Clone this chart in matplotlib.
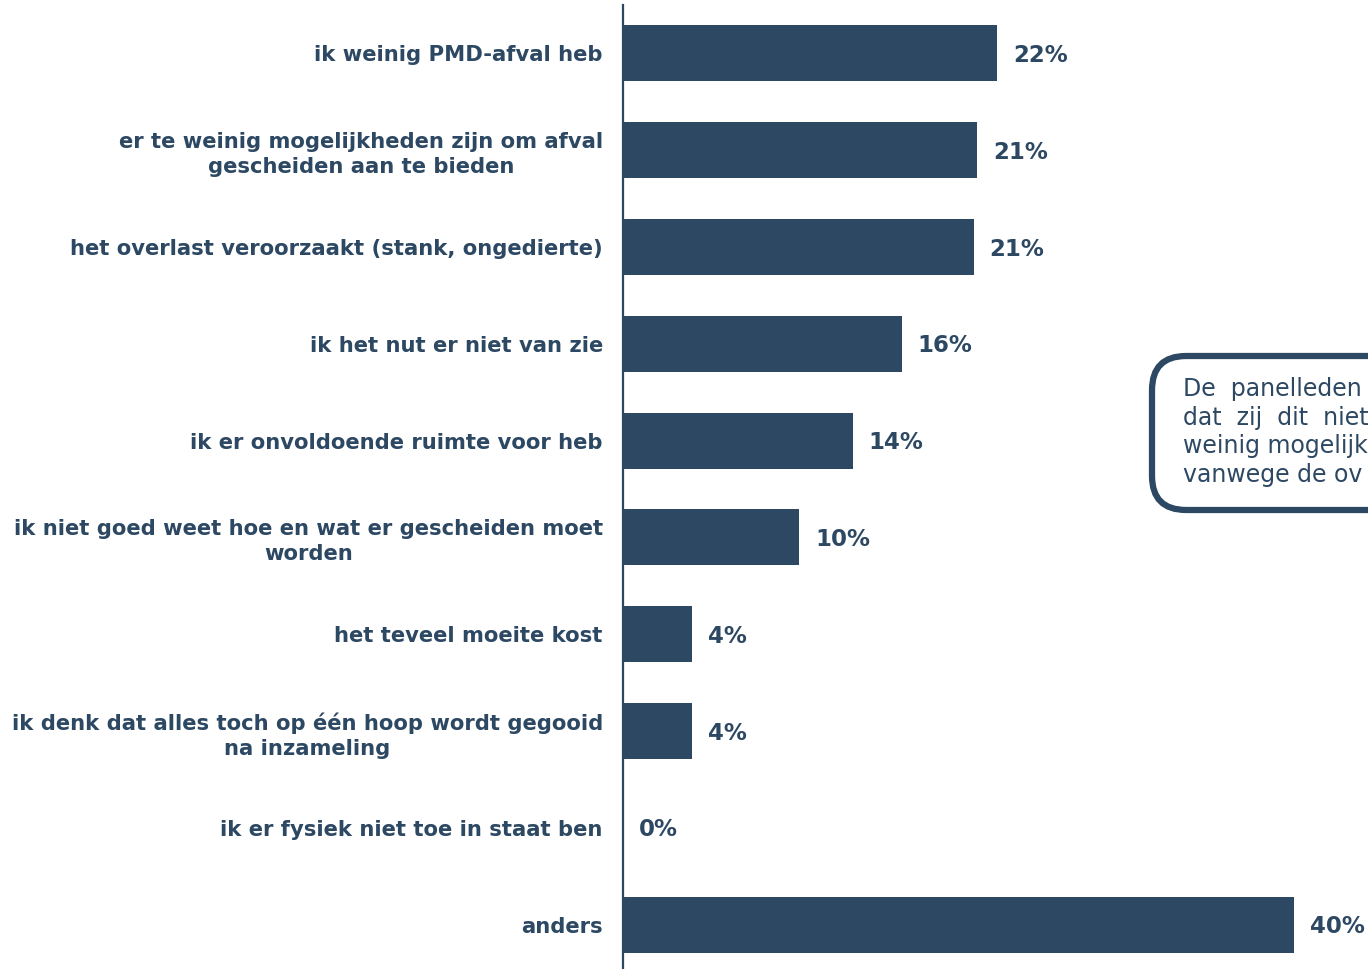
import matplotlib
matplotlib.use("Agg")
import matplotlib.pyplot as plt
from matplotlib.patches import FancyBboxPatch

categories = [
    "ik weinig PMD-afval heb",
    "er te weinig mogelijkheden zijn om afval\ngescheiden aan te bieden",
    "het overlast veroorzaakt (stank, ongedierte)",
    "ik het nut er niet van zie",
    "ik er onvoldoende ruimte voor heb",
    "ik niet goed weet hoe en wat er gescheiden moet\nworden",
    "het teveel moeite kost",
    "ik denk dat alles toch op één hoop wordt gegooid\nna inzameling",
    "ik er fysiek niet toe in staat ben",
    "anders",
]
values = [22.3, 21.1, 20.9, 16.6, 13.7, 10.5, 4.1, 4.1, 0.0, 40.0]
value_labels = ["22%", "21%", "21%", "16%", "14%", "10%", "4%", "4%", "0%", "40%"]
note_lines = [
    "De  panelleden",
    "dat  zij  dit  niet",
    "weinig mogelijk",
    "vanwege de ov",
]

navy = "#2d4863"
W, H = 1368, 969
fig = plt.figure(figsize=(W / 100, H / 100), dpi=100)
fig.patch.set_facecolor("white")

ax_left = 623 / W
ax_top = 1 - 5 / H
unit = 96.8  # px per category
n = len(categories)
ax_h_px = unit * n
ax_bottom = ax_top - ax_h_px / H
ax = fig.add_axes([ax_left, ax_bottom, 1 - ax_left, ax_h_px / H])
px_per_pct = 16.78
ax.set_xlim(0, (W - 623) / px_per_pct)
ax.set_ylim(n - 0.5, -0.5)

y = list(range(n))
ax.barh(y, values, height=0.58, color=navy, edgecolor="none", zorder=2)

for yi, v, lab in zip(y, values, value_labels):
    ax.annotate(lab, xy=(v, yi), xytext=(11.5, -1.5), textcoords="offset points",
                ha="left", va="center", fontsize=16.5, fontweight="bold",
                color=navy, family="DejaVu Sans", annotation_clip=False)

for s in ["top", "right", "bottom"]:
    ax.spines[s].set_visible(False)
ax.spines["left"].set_color(navy)
ax.spines["left"].set_linewidth(1.6)
ax.set_xticks([])
ax.set_yticks(y)
ax.set_yticklabels(categories, fontsize=15.2, fontweight="bold", color=navy,
                   family="DejaVu Sans", multialignment="center", linespacing=1.3)
ax.tick_params(axis="y", length=0, pad=14.5)

# annotation box (partially outside the figure)
bx0, by0, bx1, by1 = 1152 / W, 1 - 510 / H, 1420 / W, 1 - 356 / H
box = FancyBboxPatch((bx0, by0), bx1 - bx0, by1 - by0,
                     boxstyle="round,pad=0,rounding_size=0.025",
                     transform=fig.transFigure, facecolor="white",
                     edgecolor=navy, linewidth=4.5, zorder=5,
                     mutation_aspect=W / H)
fig.add_artist(box)
line_y = [389, 418, 446, 475]
for ly, txt in zip(line_y, note_lines):
    fig.text(1183 / W, 1 - ly / H, txt, ha="left", va="center", fontsize=17,
             color=navy, family="DejaVu Sans", zorder=6)

fig.savefig("out.png", dpi=100)
